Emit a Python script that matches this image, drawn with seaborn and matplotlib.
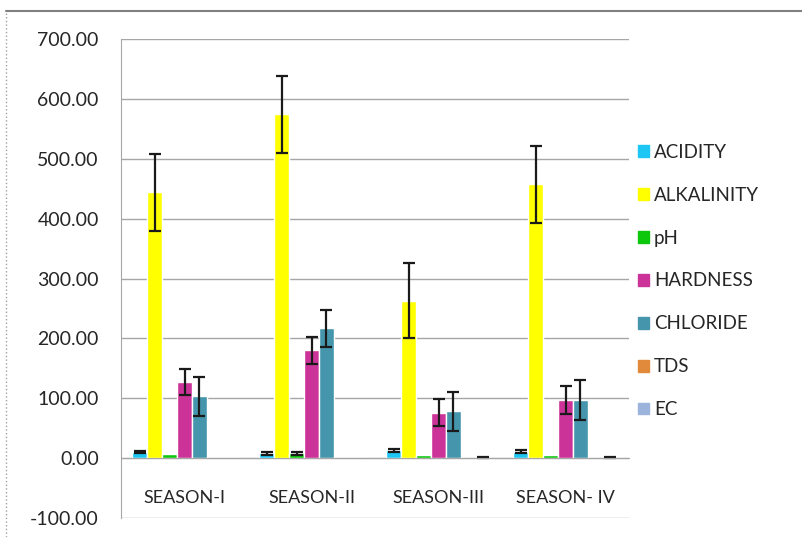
import numpy as np
import pandas as pd
import seaborn as sns
import matplotlib.pyplot as plt
from matplotlib.lines import Line2D
from matplotlib.ticker import FuncFormatter

seasons = ["SEASON-I", "SEASON-II", "SEASON-III", "SEASON- IV"]
params = ["ACIDITY", "ALKALINITY", "pH", "HARDNESS", "CHLORIDE", "TDS", "EC"]

acidity = [10, 8, 13, 11]
alkalinity = [444, 574, 263, 457]
ph = [7, 8, 6, 6]
hardness = [127, 180, 76, 97]
chloride = [103, 217, 78, 97]
tds = [0.5, 1, 0.3, 0.3]
ec = [1, 1, 1, 1]

acidity_err = [2, 2, 2, 2]
alkalinity_err = [64, 64, 63, 64]
ph_err = [0, 2, 0, 0]
hardness_err = [22, 22, 23, 23]
chloride_err = [32, 31, 32, 33]
tds_err = [0, 0, 0, 0]
ec_err = [0, 0, 1.5, 1.5]

colors = ["#1ec7f3", "#ffff00", "#0cc70c", "#cc3399", "#4596ad", "#e28a3c", "#9cb3dc"]

values = [acidity, alkalinity, ph, hardness, chloride, tds, ec]
errors = [acidity_err, alkalinity_err, ph_err, hardness_err, chloride_err, tds_err, ec_err]

df = pd.DataFrame(
    [(s, p, v[i]) for p, v in zip(params, values) for i, s in enumerate(seasons)],
    columns=["season", "param", "value"],
)

sns.set_style("white")
plt.rcParams["font.family"] = ["Lato", "DejaVu Sans"]

fig = plt.figure(figsize=(8.02, 5.37), dpi=100)
ax = fig.add_axes([121 / 802, 1 - 518 / 537, (629 - 121) / 802, (518 - 39) / 537])

sns.barplot(data=df, x="season", y="value", hue="param", order=seasons, hue_order=params,
            palette=colors, width=0.82, saturation=1, errorbar=None, ax=ax, legend=False)

# error bars on top of the bars
for cont, errs in zip(ax.containers, errors):
    xs = [p.get_x() + p.get_width() / 2 for p in cont]
    ys = [p.get_height() for p in cont]
    keep = [i for i, e in enumerate(errs) if e > 0]
    if not keep:
        continue
    ax.errorbar([xs[i] for i in keep], [ys[i] for i in keep], yerr=[errs[i] for i in keep],
                fmt="none", ecolor="#1a1a1a", elinewidth=1.6, capsize=4, capthick=1.6, zorder=5)

ax.set_ylim(-100, 700)
ax.set_xlim(-0.5, 3.5)
ax.set_yticks(np.arange(-100, 701, 100))
ax.yaxis.set_major_formatter(FuncFormatter(lambda v, _: f"{v:.2f}"))
ax.grid(axis="y", color="#a6a6a6", linewidth=1)
ax.set_axisbelow(True)
ax.set_xlabel("")
ax.set_ylabel("")

for s in ["top", "right"]:
    ax.spines[s].set_visible(False)
ax.spines["left"].set_color("#a6a6a6")
ax.spines["bottom"].set_color("#a6a6a6")
ax.spines["bottom"].set_position(("data", 0))
ax.spines["bottom"].set_zorder(6)

ax.set_xticks(np.arange(-0.5, 3.6, 1), minor=True)
ax.tick_params(axis="x", which="major", length=0, pad=23, labelsize=13, labelcolor="#262626")
ax.tick_params(axis="x", which="minor", length=6, width=1, color="#a6a6a6", direction="out")
ax.tick_params(axis="y", length=3, width=1, color="#a6a6a6", pad=13, labelsize=14, labelcolor="#262626")

handles = [plt.Rectangle((0, 0), 1, 1, color=c) for c in colors]
fig.legend(handles, params, loc="upper left", bbox_to_anchor=(621 / 802, 1 - 127 / 537),
           frameon=False, fontsize=13.5, handlelength=0.6, handleheight=0.6,
           handletextpad=0.25, labelspacing=1.38, labelcolor="#262626")

# outer chart frame
fig.add_artist(Line2D([6 / 802, 1], [1 - 11 / 537, 1 - 11 / 537], color="#808080", lw=1.5))
fig.add_artist(Line2D([6 / 802, 6 / 802], [0, 1 - 11 / 537], color="#a0a0a0", lw=1, ls=":"))

fig.savefig("out.png", dpi=100)
